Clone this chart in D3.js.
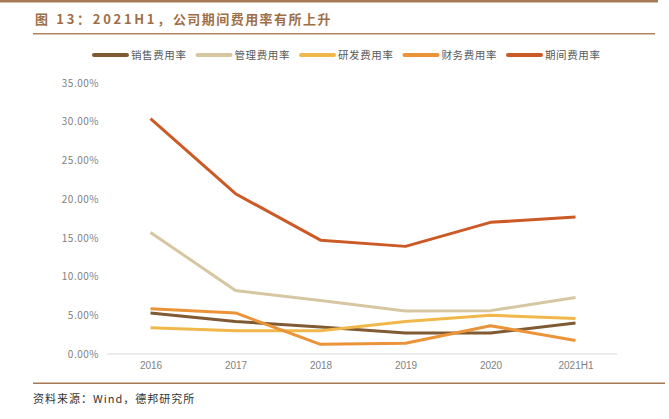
<!DOCTYPE html>
<html><head><meta charset="utf-8">
<script src="https://cdn.jsdelivr.net/npm/d3@7"></script>
<style>
body{margin:0;background:#fff;}
svg{display:block;font-family:"Noto Sans CJK SC","Noto Sans",sans-serif;}
</style></head>
<body><svg id="c" width="669" height="419"></svg>
<script>
const categories = ["2016","2017","2018","2019","2020","2021H1"];
const seriesNames = ["销售费用率","管理费用率","研发费用率","财务费用率","期间费用率"];
const sales   = [5.3, 4.2, 3.5, 2.7, 2.7, 4.0];
const admin   = [15.7, 8.2, 6.9, 5.55, 5.6, 7.3];
const rnd     = [3.4, 3.0, 3.0, 4.2, 5.0, 4.6];
const finance = [5.85, 5.3, 1.25, 1.4, 3.65, 1.75];
const period  = [30.4, 20.7, 14.7, 13.9, 17.0, 17.7];
const yTicks = [0,5,10,15,20,25,30,35];
const colors = ["#7f5a33","#d6c6a2","#f0b84a","#eb9338","#cc5a27"];
const seriesValues = [sales, admin, rnd, finance, period];

const svg = d3.select("#c");
// decorative rules
svg.append("rect").attr("x",0).attr("y",0).attr("width",658).attr("height",2.5).attr("fill","#a57a55");
svg.append("rect").attr("x",33).attr("y",33).attr("width",622).attr("height",1.5).attr("fill","#b08462");
svg.append("rect").attr("x",33).attr("y",382.5).attr("width",632).attr("height",1.5).attr("fill","#a57a55");

const title = svg.append("text").attr("x",35).attr("y",24).attr("font-size",13).attr("font-weight","bold")
  .attr("fill","#9e6f47");
title.append("tspan").attr("letter-spacing",2.7).text("图 13：2021H1，");
title.append("tspan").attr("letter-spacing",1.45).text("公司期间费用率有所上升");

svg.append("text").attr("x",33).attr("y",403).attr("font-size",11).attr("letter-spacing",1).attr("fill","#333")
  .text("资料来源：Wind，德邦研究所");

const x = d3.scalePoint().domain(categories).range([150.5,575.5]);
const y = d3.scaleLinear().domain([0,35]).range([354,83]);

// x axis baseline
svg.append("line").attr("x1",107).attr("x2",617).attr("y1",y(0)).attr("y2",y(0))
  .attr("stroke","#d9d9d9").attr("stroke-width",1);

const yAxis = svg.append("g").attr("transform","translate(99,0)")
  .call(d3.axisLeft(y).tickValues(yTicks).tickSize(0).tickPadding(0).tickFormat(d=>d3.format(".2f")(d)+"%"));
yAxis.select(".domain").remove();
yAxis.selectAll("text").attr("font-size",10).attr("fill","#7f7f7f").attr("letter-spacing",0.5)
  .attr("font-family","'Noto Sans CJK SC',sans-serif");

const xAxis = svg.append("g").attr("transform",`translate(0,${y(0)})`)
  .call(d3.axisBottom(x).tickSize(0).tickPadding(8));
xAxis.select(".domain").remove();
xAxis.selectAll("text").attr("font-size",10).attr("fill","#7f7f7f");

const line = d3.line().x((d,i)=>x(categories[i])).y(d=>y(d));
seriesValues.forEach((vals,i)=>{
  svg.append("path").datum(vals).attr("d",line).attr("fill","none")
    .attr("stroke",colors[i]).attr("stroke-width",3).attr("stroke-linejoin","round");
});

// legend
const lg = svg.append("g");
seriesNames.forEach((n,i)=>{
  const x0 = 94 + i*103.5;
  lg.append("line").attr("x1",x0).attr("x2",x0+33).attr("y1",55).attr("y2",55)
    .attr("stroke",colors[i]).attr("stroke-width",4).attr("stroke-linecap","round");
  lg.append("text").attr("x",x0+37).attr("y",59).attr("font-size",10.5).attr("letter-spacing",0.6)
    .attr("fill","#595959").text(n);
});
</script></body></html>
